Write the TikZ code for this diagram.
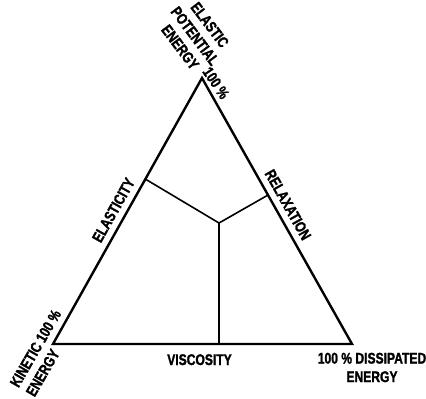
\documentclass[tikz,border=0pt]{standalone}
\usepackage{fontspec}
\newfontfamily\leroy{Liberation Sans Bold}[FakeStretch=0.78, FakeBold=1.5]
\usetikzlibrary{positioning,calc}

\begin{document}
\begin{tikzpicture}[x=1pt, y=-1pt, side/.style={line width=2.4pt, line join=miter}, inner/.style={line width=1.6pt}, lbl/.style={font=\leroy\fontsize{15.5}{18.5}\selectfont, inner sep=0pt}]
\useasboundingbox (0,0) rectangle (426,399);

\coordinate (e) at (202,78);
\coordinate (k) at (53,344);
\coordinate (d) at (352,344);
\coordinate (m) at (219,223);

\draw[side] (k) -- node[lbl, sloped, above=6pt, pos=0.48] (elas) {ELASTICITY} (e)
    -- node[lbl, sloped, above=6pt] (relax) {RELAXATION} (d) -- cycle;
\node[lbl, below=10pt] (visc) at ($(k)!0.49!(d)$) {VISCOSITY};

\coordinate (fl) at ($(k)!0.62!(e)$);
\coordinate (fr) at ($(e)!0.44!(d)$);
\coordinate (fb) at ($(k)!(m)!(d)$);
\draw[inner] (fl) -- (m) -- (fr);
\draw[inner] (m) -- (fb);

% corner labels
\node[lbl, rotate=-53, align=center] (eup) at (195,36) {ELASTIC\\POTENTIAL\\ENERGY};
\node[lbl, rotate=-56] (eupc) at (216,83) {100 \%};
\node[lbl, rotate=60, align=left] (kin) at (43.5,353) {KINETIC 100 \%\\ENERGY};
\node[lbl, align=center] (dis) at (372,367.5) {100 \% DISSIPATED\\ENERGY};
\end{tikzpicture}
\end{document}
